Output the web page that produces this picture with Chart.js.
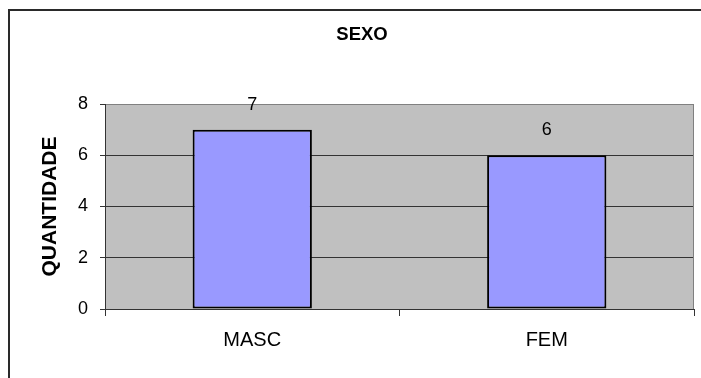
<!DOCTYPE html>
<html>
<head>
<meta charset="utf-8">
<script src="https://cdn.jsdelivr.net/npm/chart.js@4/dist/chart.umd.min.js"></script>
<style>
  html, body { margin: 0; padding: 0; background: #ffffff; }
  #wrap { width: 701px; height: 378px; }
</style>
</head>
<body>
<div id="wrap"><canvas id="c" width="701" height="378"></canvas></div>
<script>
const categories = ['MASC', 'FEM'];
const counts = [7, 6];
const chartTitle = 'SEXO';
const yAxisTitle = 'QUANTIDADE';
const yMin = 0;
const yMax = 8;
const yStep = 2;

const FONT = "'Liberation Sans', Arial, sans-serif";

const decorPlugin = {
  id: 'decor',
  beforeDraw(chart) {
    const { ctx, chartArea: a } = chart;
    ctx.save();
    ctx.fillStyle = '#ffffff';
    ctx.fillRect(0, 0, chart.width, chart.height);
    ctx.fillStyle = '#C0C0C0';
    ctx.fillRect(a.left, a.top, a.right - a.left, a.bottom - a.top);
    ctx.restore();
  },
  afterDraw(chart) {
    const { ctx, chartArea: a } = chart;
    ctx.save();
    ctx.strokeStyle = '#808080';
    ctx.lineWidth = 1;
    ctx.beginPath();
    ctx.moveTo(a.right - 0.5, a.top);
    ctx.lineTo(a.right - 0.5, a.bottom);
    ctx.stroke();
    ctx.strokeStyle = '#2a2a2a';
    ctx.lineWidth = 2;
    ctx.strokeRect(9, 10, 900, 600);
    ctx.restore();
  }
};

const valueLabels = {
  id: 'valueLabels',
  afterDatasetsDraw(chart) {
    const { ctx } = chart;
    const meta = chart.getDatasetMeta(0);
    ctx.save();
    ctx.fillStyle = '#000000';
    ctx.font = '18px ' + FONT;
    ctx.textAlign = 'center';
    ctx.textBaseline = 'middle';
    meta.data.forEach((bar, i) => {
      ctx.fillText(String(counts[i]), bar.x, bar.y - 25);
    });
    ctx.restore();
  }
};

new Chart(document.getElementById('c'), {
  type: 'bar',
  data: {
    labels: categories,
    datasets: [{
      data: counts,
      backgroundColor: '#9999FF',
      borderColor: '#000000',
      borderWidth: 2,
      borderSkipped: false,
      barPercentage: 0.405,
      categoryPercentage: 1.0
    }]
  },
  options: {
    responsive: false,
    animation: false,
    devicePixelRatio: 1,
    layout: { padding: { left: 30, right: 7, top: 0, bottom: 0 } },
    plugins: {
      legend: { display: false },
      tooltip: { enabled: false },
      title: {
        display: true,
        text: chartTitle,
        color: '#000000',
        font: { family: FONT, size: 18.5, weight: 'bold', lineHeight: 1.2 },
        padding: { top: 24, bottom: 57.8 }
      }
    },
    scales: {
      x: {
        offset: true,
        afterFit(scale) { scale.height = 69; },
        grid: {
          offset: true,
          drawOnChartArea: false,
          drawTicks: true,
          tickLength: 7,
          tickColor: '#333333',
          lineWidth: 1
        },
        border: { display: true, color: '#333333', width: 1 },
        ticks: {
          color: '#000000',
          font: { family: FONT, size: 20 },
          padding: 12,
          maxRotation: 0
        }
      },
      y: {
        min: yMin,
        max: yMax,
        afterFit(scale) { scale.width = 75; },
        grid: {
          color: (c) => (c.tick && c.tick.value === yMax) ? '#808080' : '#333333',
          lineWidth: 1,
          drawTicks: true,
          tickLength: 5,
          tickColor: '#333333'
        },
        border: { display: true, color: '#333333', width: 1 },
        ticks: {
          stepSize: yStep,
          color: '#000000',
          font: { family: FONT, size: 18 },
          padding: 12
        },
        title: {
          display: true,
          text: yAxisTitle,
          color: '#000000',
          font: { family: FONT, size: 21, weight: 'bold', lineHeight: 1.2 },
          padding: { top: 8, bottom: 0 }
        }
      }
    }
  },
  plugins: [decorPlugin, valueLabels]
});
</script>
</body>
</html>
